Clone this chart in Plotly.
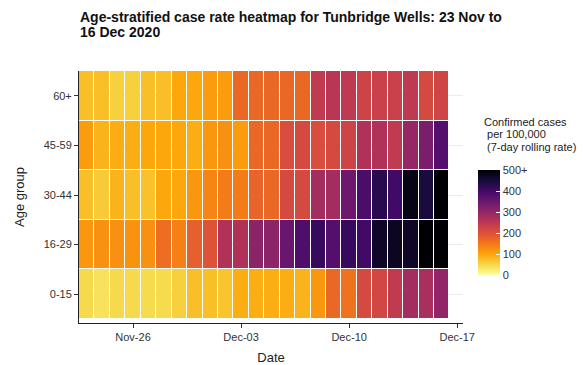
import plotly.graph_objects as go
import pandas as pd

dates = pd.date_range("2020-11-23", "2020-12-16", freq="D").strftime("%Y-%m-%d").tolist()
age_groups = ["0-15", "16-29", "30-44", "45-59", "60+"]

rate_0_15 = [47, 38, 47, 47, 45, 45, 57, 74, 74, 68, 92, 92, 92, 92, 86, 116, 170, 158, 214, 220, 242, 280, 275, 302]
rate_16_29 = [116, 122, 122, 120, 122, 164, 140, 181, 197, 264, 264, 308, 308, 352, 385, 412, 379, 412, 401, 467, 472, 467, 510, 510]
rate_30_44 = [74, 62, 86, 74, 72, 98, 98, 116, 134, 146, 146, 176, 170, 214, 214, 280, 280, 346, 390, 429, 401, 484, 445, 510]
rate_45_59 = [110, 86, 92, 92, 98, 98, 98, 92, 116, 122, 110, 170, 170, 208, 214, 208, 214, 225, 264, 264, 242, 297, 330, 379]
rate_60p = [74, 74, 57, 57, 74, 74, 98, 98, 110, 110, 170, 170, 170, 170, 170, 242, 253, 247, 225, 231, 231, 247, 214, 223]

z = [rate_0_15, rate_16_29, rate_30_44, rate_45_59, rate_60p]

cb_ticks = [0, 100, 200, 300, 400, 500]
cb_text = ["0", "100", "200", "300", "400", "500+"]

title_lines = ["Age-stratified case rate heatmap for Tunbridge Wells: 23 Nov to", "16 Dec 2020"]
legend_lines = ["Confirmed cases", " per 100,000", " (7-day rolling rate)"]

# reversed inferno (viridis) palette: low = light yellow, high = black
inferno = ["#000004", "#160B39", "#420A68", "#6A176E", "#932667", "#BC3754",
           "#DD513A", "#F37819", "#FCA50A", "#F6D746", "#FCFFA4"]
colorscale = [[i / 10, c] for i, c in enumerate(reversed(inferno))]

font = "Liberation Sans, Arial, sans-serif"

fig = go.Figure(go.Heatmap(
    x=dates, y=age_groups, z=z,
    colorscale=colorscale, zmin=0, zmax=500,
    xgap=1, ygap=1,
    colorbar=dict(
        x=1.039, xanchor="left", xpad=0,
        y=0.397, yanchor="middle", ypad=0,
        lenmode="pixels", len=105, thickness=22,
        outlinewidth=0,
        tickvals=cb_ticks, ticktext=cb_text,
        ticks="inside", tickcolor="white", ticklen=4,
        tickfont=dict(family=font, size=11, color="#333333"),
    ),
    hovertemplate="%{x}<br>%{y}: %{z}<extra></extra>",
))

annotations = []
for line, yv in zip(title_lines, [1.214, 1.155]):
    annotations.append(dict(
        text=f"<b>{line}</b>", xref="paper", yref="paper", x=-0.003, y=yv,
        xanchor="left", yanchor="middle", showarrow=False,
        font=dict(family=font, size=14, color="#111111"),
    ))
for line, yv in zip(legend_lines, [0.798, 0.750, 0.698]):
    annotations.append(dict(
        text=line, xref="paper", yref="paper", x=1.049, y=yv,
        xanchor="left", yanchor="middle", showarrow=False,
        font=dict(family=font, size=11, color="#222222"),
    ))

# The page body adds 8px of margin, so the figure is drawn 8px smaller.
fig.update_layout(
    width=577, height=357,
    margin=dict(l=71, r=122, t=63, b=42),
    paper_bgcolor="white", plot_bgcolor="white",
    font=dict(family=font, size=11, color="#333333"),
    xaxis=dict(
        type="date", automargin=False,
        range=["2020-11-22 12:00", "2020-12-17 09:00"],
        tickvals=["2020-11-26", "2020-12-03", "2020-12-10", "2020-12-17"],
        tickformat="%b-%d",
        showline=True, linecolor="#222222", linewidth=1,
        ticks="outside", ticklen=4, tickcolor="#333333",
        showgrid=False, zeroline=False,
        title=dict(text="Date", font=dict(family=font, size=13, color="#222222"), standoff=12),
        tickfont=dict(size=11, color="#333333"),
    ),
    yaxis=dict(
        range=[-0.58, 4.5], automargin=False,
        showline=True, linecolor="#222222", linewidth=1,
        ticks="outside", ticklen=4, tickcolor="#333333",
        showgrid=True, gridcolor="#EBEBEB", zeroline=False,
        title=dict(text="Age group", font=dict(family=font, size=13, color="#222222"), standoff=16),
        tickfont=dict(size=11, color="#333333"),
    ),
    annotations=annotations,
)

fig.write_html("out.html")
